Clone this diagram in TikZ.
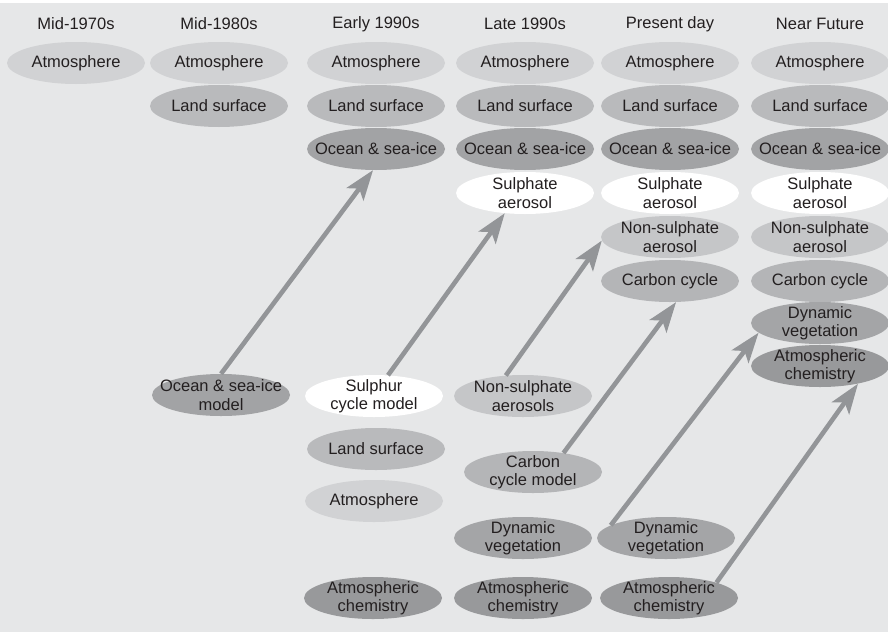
\documentclass[tikz,border=0pt]{standalone}
\usepackage{fontspec}
\setmainfont{Liberation Sans}
\usetikzlibrary{shapes.geometric,arrows.meta}
\definecolor{bg}{HTML}{E6E7E8}
\definecolor{txt}{HTML}{231F20}
\definecolor{cAtm}{HTML}{D1D2D4}
\definecolor{cLand}{HTML}{B9BABC}
\definecolor{cOcean}{HTML}{A2A3A5}
\definecolor{cNonS}{HTML}{C5C6C8}
\definecolor{cCarb}{HTML}{B4B5B7}
\definecolor{cDyn}{HTML}{A4A5A7}
\definecolor{cChem}{HTML}{98999B}
\definecolor{arrowgray}{HTML}{939598}
\tikzset{
  ell/.style={ellipse, minimum width=138pt, minimum height=42pt,
    inner xsep=-40pt, inner ysep=-15pt, align=center, text=txt,
    font=\fontsize{16.5}{18.5}\selectfont},
  atm/.style={ell, fill=cAtm},
  land/.style={ell, fill=cLand},
  ocean/.style={ell, fill=cOcean},
  sulph/.style={ell, fill=white},
  nons/.style={ell, fill=cNonS},
  carb/.style={ell, fill=cCarb},
  dyn/.style={ell, fill=cDyn},
  chem/.style={ell, fill=cChem},
  head/.style={text=txt, font=\fontsize{16.5}{18.5}\selectfont, inner sep=0pt},
  arr/.style={draw=arrowgray, line width=4.6pt,
    -{Stealth[length=30pt,width=21pt,inset=7pt]}}
}
\begin{document}
\begin{tikzpicture}[x=1pt,y=-1pt]
\useasboundingbox (0,0) rectangle (888,632);
\fill[bg] (0,3) rectangle (888,632);
% headers
\node[head] (h1) at (76,24) {Mid-1970s};
\node[head] (h2) at (219,24) {Mid-1980s};
\node[head] (h3) at (376,24) {Early 1990s};
\node[head] (h4) at (525,24) {Late 1990s};
\node[head] (h5) at (670,24) {Present day};
\node[head] (h6) at (820,24) {Near Future};
% column 1
\node[atm] (a1) at (76,63) {Atmosphere};
% column 2
\node[atm] (a2) at (219,63) {Atmosphere};
\node[land] (l2) at (219,106) {Land surface};
% column 3
\node[atm] (a3) at (376,63) {Atmosphere};
\node[land] (l3) at (376,106) {Land surface};
\node[ocean] (o3) at (376,149) {Ocean \& sea-ice};
% column 4
\node[atm] (a4) at (525,63) {Atmosphere};
\node[land] (l4) at (525,106) {Land surface};
\node[ocean] (o4) at (525,149) {Ocean \& sea-ice};
\node[sulph] (s4) at (525,193) {Sulphate\\aerosol};
% column 5
\node[atm] (a5) at (670,63) {Atmosphere};
\node[land] (l5) at (670,106) {Land surface};
\node[ocean] (o5) at (670,149) {Ocean \& sea-ice};
\node[sulph] (s5) at (670,193) {Sulphate\\aerosol};
\node[nons] (n5) at (670,237) {Non-sulphate\\aerosol};
\node[carb] (c5) at (670,281) {Carbon cycle};
% column 6
\node[atm] (a6) at (820,63) {Atmosphere};
\node[land] (l6) at (820,106) {Land surface};
\node[ocean] (o6) at (820,149) {Ocean \& sea-ice};
\node[sulph] (s6) at (820,193) {Sulphate\\aerosol};
\node[nons] (n6) at (820,237) {Non-sulphate\\aerosol};
\node[carb] (c6) at (820,281) {Carbon cycle};
\node[dyn] (dv6) at (820,323) {Dynamic\\vegetation};
\node[chem] (ac6) at (820,366) {Atmospheric\\chemistry};
% lower components
\node[ocean] (om) at (221,395) {Ocean \& sea-ice\\model};
\node[sulph] (sc) at (374,396) {Sulphur\\cycle model};
\node[land] (lsb) at (376,449) {Land surface};
\node[atm] (atb) at (374,501) {Atmosphere};
\node[chem] (ac3) at (373,598) {Atmospheric\\chemistry};
\node[nons] (nsa) at (523,396) {Non-sulphate\\aerosols};
\node[carb] (ccm) at (533,472) {Carbon\\cycle model};
\node[dyn] (dv4) at (523,538) {Dynamic\\vegetation};
\node[chem] (ac4) at (523,598) {Atmospheric\\chemistry};
\node[dyn] (dv5) at (666,538) {Dynamic\\vegetation};
\node[chem] (ac5) at (669,598) {Atmospheric\\chemistry};
% arrows
\draw[arr] (om.north) -- (o3.262);
\draw[arr] (sc.56) -- (s4.225);
\draw[arr] (nsa.130) -- (n5.183);
\draw[arr] (ccm.32) -- (c5.286);
\draw[arr] (dv5.167) -- (dv6.189);
\draw[arr] (ac5.18) -- (ac6.335);
\end{tikzpicture}
\end{document}
